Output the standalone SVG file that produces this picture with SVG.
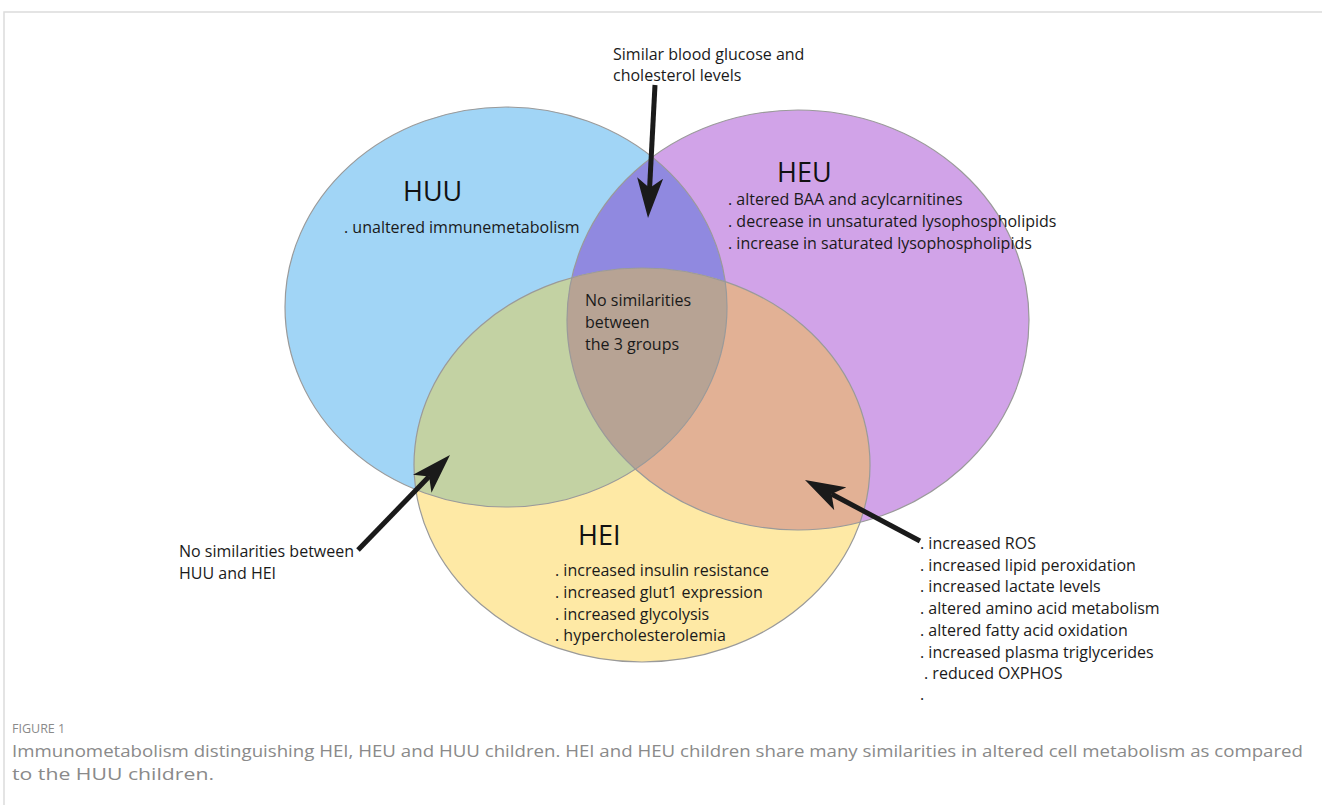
<svg xmlns="http://www.w3.org/2000/svg" width="1322" height="805" viewBox="0 0 1322 805">
<style>
.t{font-family:"Open Sans","Liberation Sans",sans-serif;font-size:16px;fill:#1a1a1a}
.h{font-family:"Open Sans","Liberation Sans",sans-serif;font-size:27px;fill:#111}
.cap{font-family:"Open Sans","Liberation Sans",sans-serif;fill:#8a8a8a}
.edge{fill:none;stroke:#9a9a9a;stroke-width:1.2}
.arr{stroke:#1a1a1a;stroke-width:5;fill:none;marker-end:url(#ah)}
</style>
<defs>
<marker id="ah" markerUnits="userSpaceOnUse" viewBox="0 0 40 26" refX="10" refY="13" markerWidth="40" markerHeight="26" orient="auto">
<path d="M0,0 L40,13 L0,26 L10,13 Z" fill="#1a1a1a"/>
</marker>
<clipPath id="cB"><ellipse cx="506" cy="307" rx="221" ry="200"/></clipPath>
<clipPath id="cP"><ellipse cx="798" cy="320" rx="231" ry="210"/></clipPath>
<clipPath id="cY"><ellipse cx="642" cy="465" rx="228" ry="197"/></clipPath>
</defs>
<rect width="1322" height="805" fill="#fff"/>
<path d="M4,805 V12 H1322" fill="none" stroke="#dcdcdc" stroke-width="1.5"/>

<g id="fills">
<ellipse cx="506" cy="307" rx="221" ry="200" fill="#a1d5f6"/>
<ellipse cx="798" cy="320" rx="231" ry="210" fill="#d1a3e8"/>
<ellipse cx="642" cy="465" rx="228" ry="197" fill="#fee9a5"/>
<g clip-path="url(#cB)"><ellipse cx="798" cy="320" rx="231" ry="210" fill="#9089e0"/></g>
<g clip-path="url(#cB)"><ellipse cx="642" cy="465" rx="228" ry="197" fill="#c3d2a3"/></g>
<g clip-path="url(#cP)"><ellipse cx="642" cy="465" rx="228" ry="197" fill="#e2b195"/></g>
<g clip-path="url(#cB)"><g clip-path="url(#cP)"><ellipse cx="642" cy="465" rx="228" ry="197" fill="#b7a394"/></g></g>
</g>

<g id="HUU">
<ellipse class="edge" cx="506" cy="307" rx="221" ry="200"/>
<text class="h" x="403" y="201">HUU</text>
<text class="t" x="344" y="233">. unaltered immunemetabolism</text>
</g>
<g id="HEU">
<ellipse class="edge" cx="798" cy="320" rx="231" ry="210"/>
<text class="h" x="777" y="182">HEU</text>
<text class="t" x="728" y="205">. altered BAA and acylcarnitines</text>
<text class="t" x="728" y="227">. decrease in unsaturated lysophospholipids</text>
<text class="t" x="728" y="249">. increase in saturated lysophospholipids</text>
</g>
<g id="HEI">
<ellipse class="edge" cx="642" cy="465" rx="228" ry="197"/>
<text class="h" x="578" y="545">HEI</text>
<text class="t" x="555" y="576">. increased insulin resistance</text>
<text class="t" x="555" y="598">. increased glut1 expression</text>
<text class="t" x="555" y="620">. increased glycolysis</text>
<text class="t" x="555" y="641">. hypercholesterolemia</text>
</g>
<g id="center">
<text class="t" x="585" y="306">No similarities</text>
<text class="t" x="585" y="328">between</text>
<text class="t" x="585" y="350">the 3 groups</text>
</g>
<g id="top-label">
<text class="t" x="613" y="60">Similar blood glucose and</text>
<text class="t" x="613" y="81">cholesterol levels</text>
</g>
<g id="left-label">
<text class="t" x="179" y="557">No similarities between</text>
<text class="t" x="179" y="579">HUU and HEI</text>
</g>
<g id="right-label">
<text class="t" x="920" y="549">. increased ROS</text>
<text class="t" x="920" y="571">. increased lipid peroxidation</text>
<text class="t" x="920" y="592">. increased lactate levels</text>
<text class="t" x="920" y="614">. altered amino acid metabolism</text>
<text class="t" x="920" y="636">. altered fatty acid oxidation</text>
<text class="t" x="920" y="658">. increased plasma triglycerides</text>
<text class="t" x="924" y="679">. reduced OXPHOS</text>
<text class="t" x="920" y="700">.</text>
</g>

<g id="connectors">
<line class="arr" x1="655" y1="85" x2="649.6" y2="188"/>
<line class="arr" x1="358" y1="550" x2="429.1" y2="476.6"/>
<line class="arr" x1="920" y1="541" x2="831.5" y2="494"/>
</g>

<g id="caption">
<text class="cap" x="12" y="733" font-size="12.5">FIGURE 1</text>
<text class="cap" x="12" y="757" font-size="17" textLength="1291" lengthAdjust="spacingAndGlyphs">Immunometabolism distinguishing HEI, HEU and HUU children. HEI and HEU children share many similarities in altered cell metabolism as compared</text>
<text class="cap" x="12" y="780" font-size="17" textLength="202" lengthAdjust="spacingAndGlyphs">to the HUU children.</text>
</g>
</svg>
